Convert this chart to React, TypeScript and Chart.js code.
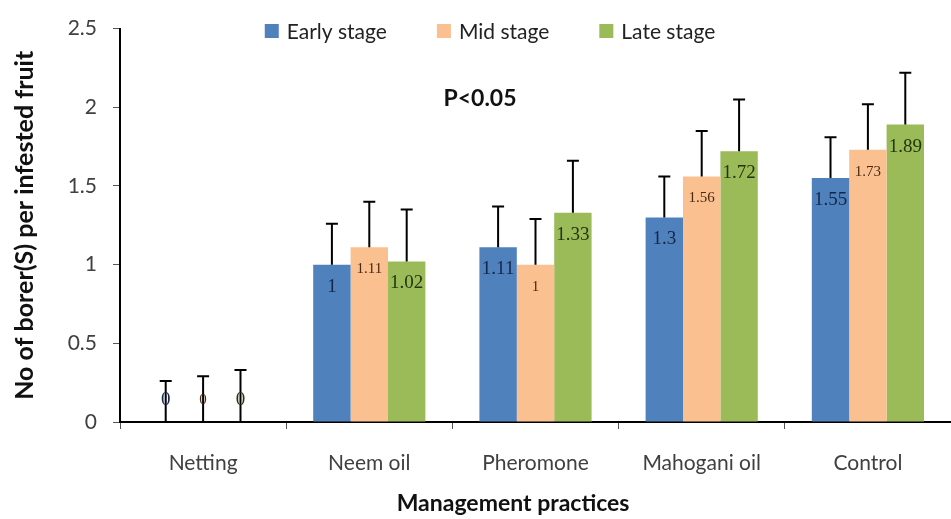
import React, { useEffect, useRef } from "react";
import { Chart, registerables } from "chart.js";

Chart.register(...registerables);

const categories = ["Netting", "Neem oil", "Pheromone", "Mahogani oil", "Control"];
const seriesNames = ["Early stage", "Mid stage", "Late stage"];
const earlyStage = [0, 1, 1.11, 1.3, 1.55];
const midStage = [0, 1.11, 1, 1.56, 1.73];
const lateStage = [0, 1.02, 1.33, 1.72, 1.89];
const earlyErr = [0.26, 0.26, 0.26, 0.26, 0.26];
const midErr = [0.29, 0.29, 0.29, 0.29, 0.29];
const lateErr = [0.33, 0.33, 0.33, 0.33, 0.33];
const yTickValues = [0, 0.5, 1, 1.5, 2, 2.5];
const annotationText = "P<0.05";
const yTitle = "No of borer(S) per infested fruit";
const xTitle = "Management practices";

const barColors = ["#4F81BD", "#FAC090", "#9BBB59"];
const labelColors = ["#14264A", "#4A2A12", "#22360E"];
const labelSizes = [19, 15, 19];
const FONT = "Lato, 'Noto Sans', sans-serif";

const errorBarPlugin = {
  id: "errorBars",
  afterDatasetsDraw(chart: any) {
    const ctx = chart.ctx;
    const y = chart.scales.y;
    ctx.save();
    ctx.strokeStyle = "#000";
    ctx.lineWidth = 2;
    chart.data.datasets.forEach((ds: any, di: number) => {
      const meta = chart.getDatasetMeta(di);
      meta.data.forEach((bar: any, i: number) => {
        const v = ds.data[i];
        const e = ds.errors[i];
        const yb = y.getPixelForValue(v);
        const yt = y.getPixelForValue(v + e);
        ctx.beginPath();
        ctx.moveTo(bar.x, yb);
        ctx.lineTo(bar.x, yt);
        ctx.moveTo(bar.x - 6, yt);
        ctx.lineTo(bar.x + 6, yt);
        ctx.stroke();
      });
    });
    chart.data.datasets.forEach((ds: any, di: number) => {
      const meta = chart.getDatasetMeta(di);
      ctx.fillStyle = labelColors[di];
      ctx.font = `${labelSizes[di]}px 'Liberation Serif', serif`;
      ctx.textAlign = "center";
      ctx.textBaseline = "middle";
      meta.data.forEach((bar: any, i: number) => {
        const v = ds.data[i];
        const ly = v > 0 ? bar.y + 22 : bar.base - 22;
        ctx.fillText(String(v), bar.x, ly);
      });
    });
    ctx.restore();
  },
  afterDraw(chart: any) {
    const ctx = chart.ctx;
    const area = chart.chartArea;
    ctx.save();
    ctx.font = `21px ${FONT}`;
    ctx.textBaseline = "middle";
    ctx.textAlign = "left";
    const box = 14;
    const gapText = 8;
    const gapItem = 50;
    const widths = seriesNames.map((n) => ctx.measureText(n).width);
    const total = widths.reduce((a, w) => a + box + gapText + w, 0) + gapItem * (seriesNames.length - 1);
    let x = 490 - total / 2;
    const ly = 31;
    seriesNames.forEach((n, i) => {
      ctx.fillStyle = barColors[i];
      ctx.fillRect(x, ly - box / 2, box, box);
      ctx.fillStyle = "#222";
      ctx.fillText(n, x + box + gapText, ly + 1);
      x += box + gapText + widths[i] + gapItem;
    });
    ctx.textAlign = "center";
    ctx.fillStyle = "#111";
    ctx.font = `bold 23px ${FONT}`;
    ctx.fillText(annotationText, 480, 99);
    ctx.font = `bold 23px ${FONT}`;
    ctx.fillText(xTitle, area.left + (area.right - area.left) * 0.473, 504);
    ctx.restore();
  },
};

export default function App() {
  const ref = useRef<HTMLCanvasElement>(null);
  useEffect(() => {
    if (!ref.current) return;
    const chart = new Chart(ref.current, {
      type: "bar",
      data: {
        labels: categories,
        datasets: [earlyStage, midStage, lateStage].map((d, i) => ({
          label: seriesNames[i],
          data: d,
          errors: [earlyErr, midErr, lateErr][i],
          backgroundColor: barColors[i],
          borderWidth: 0,
          barPercentage: 1,
          categoryPercentage: 0.675,
        })) as any,
      },
      options: {
        responsive: false,
        animation: false,
        layout: { padding: { top: 20, right: 0, bottom: 0, left: 0 } },
        plugins: { legend: { display: false }, tooltip: { enabled: false } },
        scales: {
          x: {
            grid: { display: true, drawOnChartArea: false, tickLength: 7, color: "#555", lineWidth: 1 },
            border: { display: true, color: "#000", width: 2 },
            ticks: { color: "#404040", font: { family: FONT, size: 21 }, padding: 22 },
            afterFit: (s: any) => { s.height = 97; },
          },
          y: {
            min: 0,
            max: 2.5,
            afterBuildTicks: (s: any) => { s.ticks = yTickValues.map((v) => ({ value: v })); },
            grid: { display: true, drawOnChartArea: false, tickLength: 7, color: "#555", lineWidth: 1 },
            border: { display: true, color: "#000", width: 2 },
            ticks: { color: "#404040", font: { family: FONT, size: 21 }, padding: 16, callback: (v: any) => String(v) },
            title: { display: true, text: yTitle, font: { family: FONT, size: 25, weight: "bold" }, color: "#111", padding: { top: 10, bottom: 0 } },
            afterFit: (s: any) => { s.width = 120; },
          },
        },
      },
      plugins: [errorBarPlugin],
    });
    return () => chart.destroy();
  }, []);
  return (
    <div style={{ position: "absolute", left: 0, top: 0, width: 951, height: 519, background: "#fff" }}>
      <canvas ref={ref} width={951} height={519} />
    </div>
  );
}
